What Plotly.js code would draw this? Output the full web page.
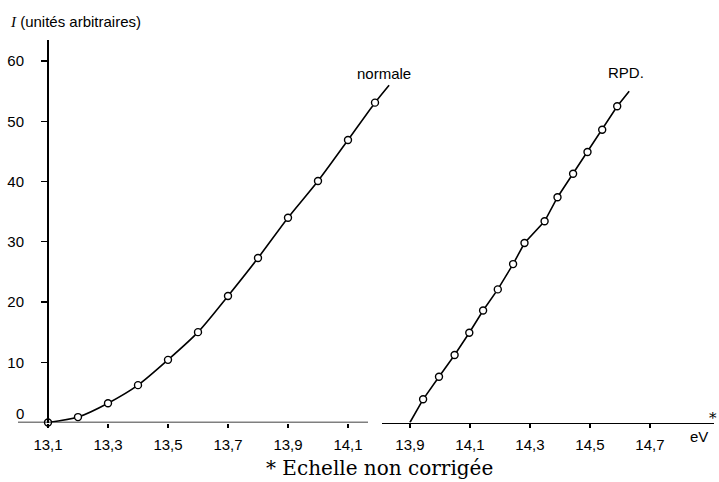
<!DOCTYPE html>
<html>
<head>
<meta charset="utf-8">
<script src="https://cdn.plot.ly/plotly-3.0.1.min.js"></script>
<style>html,body{margin:0;padding:0;background:#fff;}#chart{width:719px;height:482px;}</style>
</head>
<body>
<div id="chart"></div>
<script>
// Data
const normX = [13.1, 13.2, 13.3, 13.4, 13.5, 13.6, 13.7, 13.8, 13.9, 14.0, 14.1, 14.19];
const normY = [0, 0.9, 3.2, 6.2, 10.4, 15.0, 21.0, 27.3, 34.0, 40.1, 46.9, 53.1];
const normEnd = [14.237, 56];
const rpdX = [13.944, 13.997, 14.049, 14.098, 14.144, 14.193, 14.244, 14.282, 14.349, 14.392, 14.444, 14.492, 14.541, 14.591];
const rpdY = [3.85, 7.6, 11.2, 14.9, 18.6, 22.1, 26.3, 29.8, 33.4, 37.4, 41.3, 44.9, 48.6, 52.5];
const rpdStart = [13.9, 0];
const rpdEnd = [14.631, 55];
const yTicks = [10, 20, 30, 40, 50, 60];
const xTicksLeft = [13.1, 13.3, 13.5, 13.7, 13.9, 14.1];
const xTicksRight = [13.9, 14.1, 14.3, 14.5, 14.7];
const fmt = v => v.toFixed(1).replace('.', ',');

const W = 719, H = 482;
const px = v => v / W;
const tickFont = {family: 'Liberation Sans, Arial, sans-serif', size: 15, color: '#000'};

const traces = [
  {x: normX.concat([normEnd[0]]), y: normY.concat([normEnd[1]]), xaxis: 'x', yaxis: 'y', mode: 'lines',
   line: {color: '#000', width: 1.6, shape: 'spline', smoothing: 0.8}, hoverinfo: 'skip'},
  {x: normX, y: normY, xaxis: 'x', yaxis: 'y', mode: 'markers', cliponaxis: false,
   marker: {symbol: 'circle', size: 7, color: '#fff', line: {color: '#000', width: 1.4}}},
  {x: [rpdStart[0]].concat(rpdX, [rpdEnd[0]]), y: [rpdStart[1]].concat(rpdY, [rpdEnd[1]]), xaxis: 'x2', yaxis: 'y', mode: 'lines',
   line: {color: '#000', width: 1.6}, hoverinfo: 'skip'},
  {x: rpdX, y: rpdY, xaxis: 'x2', yaxis: 'y', mode: 'markers', cliponaxis: false,
   marker: {symbol: 'circle', size: 7, color: '#fff', line: {color: '#000', width: 1.4}}}
];

const layout = {
  width: W, height: H,
  margin: {l: 0, r: 0, t: 0, b: 0},
  paper_bgcolor: '#fff', plot_bgcolor: 'rgba(0,0,0,0)',
  showlegend: false,
  xaxis: {
    domain: [px(18), px(400)], range: [13.0, 13.0 + 382 / 300],
    anchor: 'y', showgrid: false, zeroline: false, showline: false,
    tickvals: xTicksLeft, ticktext: xTicksLeft.map(fmt),
    ticks: 'outside', ticklen: 4, tickwidth: 1.3, tickcolor: '#000',
    tickfont: tickFont, ticklabelstandoff: 4
  },
  xaxis2: {
    domain: [px(382), px(714)], range: [13.807, 13.807 + 332 / 300],
    anchor: 'y', showgrid: false, zeroline: false, showline: true, linecolor: '#000', linewidth: 1.5,
    tickvals: xTicksRight, ticktext: xTicksRight.map(fmt),
    ticks: 'outside', ticklen: 4, tickwidth: 1.3, tickcolor: '#000',
    tickfont: tickFont, ticklabelstandoff: 4
  },
  yaxis: {
    domain: [(H - 422.5) / H, (H - 40) / H], range: [0, 63.5],
    anchor: 'free', position: px(47), showgrid: false, zeroline: false,
    showline: true, linecolor: '#000', linewidth: 1.5,
    tickvals: yTicks, ticks: 'outside', ticklen: 6, tickwidth: 1.3, tickcolor: '#000',
    tickfont: tickFont, ticklabelstandoff: 14
  },
  shapes: [
    {type: 'line', xref: 'paper', yref: 'y', x0: px(18), x1: px(368), y0: 0, y1: 0,
     line: {color: '#000', width: 1.5}}
  ],
  annotations: [
    {xref: 'paper', yref: 'paper', x: px(8), y: 1 - 22 / H, xanchor: 'left', yanchor: 'middle', showarrow: false,
     text: '<i style="font-family:Liberation Serif">I</i> (unités arbitraires)',
     font: {family: 'Liberation Sans, sans-serif', size: 15, color: '#000'}},
    {xref: 'paper', yref: 'paper', x: px(26), y: 1 - 413 / H, xanchor: 'right', yanchor: 'middle', showarrow: false,
     text: '0', font: tickFont},
    {xref: 'paper', yref: 'paper', x: px(384), y: 1 - 73 / H, xanchor: 'center', yanchor: 'middle', showarrow: false,
     text: 'normale', font: tickFont},
    {xref: 'paper', yref: 'paper', x: px(626), y: 1 - 72 / H, xanchor: 'center', yanchor: 'middle', showarrow: false,
     text: 'RPD.', font: tickFont},
    {xref: 'paper', yref: 'paper', x: px(699), y: 1 - 436 / H, xanchor: 'center', yanchor: 'middle', showarrow: false,
     text: 'eV', font: tickFont},
    {xref: 'paper', yref: 'paper', x: px(713), y: 1 - 418 / H, xanchor: 'center', yanchor: 'middle', showarrow: false,
     text: '*', font: {family: 'DejaVu Serif, serif', size: 15, color: '#000'}},
    {xref: 'paper', yref: 'paper', x: px(379), y: 1 - 468 / H, xanchor: 'center', yanchor: 'middle', showarrow: false,
     text: '* Echelle non corrigée', font: {family: 'DejaVu Serif, serif', size: 20, color: '#000'}}
  ]
};

Plotly.newPlot('chart', traces, layout, {staticPlot: true, displayModeBar: false});
</script>
</body>
</html>
